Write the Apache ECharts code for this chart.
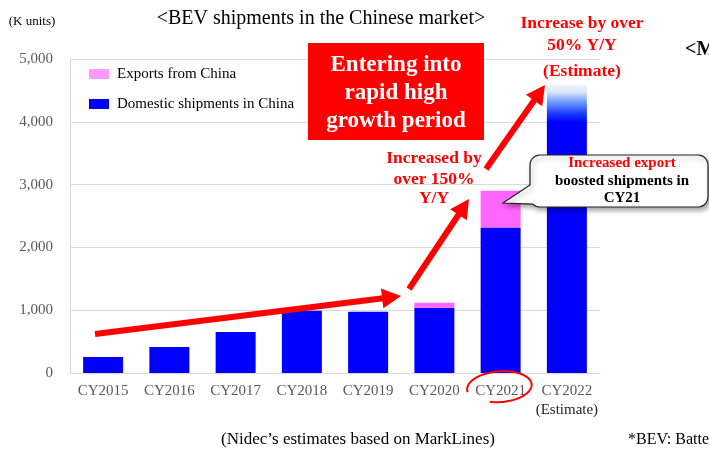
<!DOCTYPE html>
<html>
<head>
<meta charset="utf-8">
<style>
  html, body { margin: 0; padding: 0; background: #ffffff; }
  #chart { width: 709px; height: 450px; }
</style>
<script src="https://cdn.jsdelivr.net/npm/echarts@6/dist/echarts.min.js"></script>
</head>
<body>
<div id="chart"></div>
<script>
// BEV shipments in the Chinese market, thousand units
const categories = ['CY2015', 'CY2016', 'CY2017', 'CY2018', 'CY2019', 'CY2020', 'CY2021', 'CY2022\n(Estimate)'];
const domestic = [255, 415, 653, 992, 976, 1040, 2318, 4590];
const exports = [0, 0, 0, 0, 0, 80, 585, 0];
const yTicks = { min: 0, max: 5000, interval: 1000 };

const SERIF = "'Liberation Serif', 'Times New Roman', serif";
const RED = '#ff0000';

// thick red arrow from (x0,y0) to tip (x1,y1)
function arrow(x0, y0, x1, y1, w, headLen, headHalf) {
  const dx = x1 - x0, dy = y1 - y0;
  const len = Math.sqrt(dx * dx + dy * dy);
  const ux = dx / len, uy = dy / len;
  const bx = x1 - ux * headLen, by = y1 - uy * headLen;
  const px = -uy, py = ux;
  return {
    type: 'group', z: 100,
    children: [
      { type: 'line', z: 100, shape: { x1: x0, y1: y0, x2: bx + ux, y2: by + uy },
        style: { stroke: RED, lineWidth: w } },
      { type: 'polygon', z: 100,
        shape: { points: [[x1, y1], [bx + px * headHalf, by + py * headHalf], [bx - px * headHalf, by - py * headHalf]] },
        style: { fill: RED } }
    ]
  };
}

function txt(x, y, text, opts) {
  return {
    type: 'text', x: x, y: y, z: 110,
    style: Object.assign({
      text: text, fontFamily: SERIF, fontSize: 14, fill: '#000',
      align: 'center', verticalAlign: 'middle'
    }, opts || {})
  };
}

// quarter-circle corner points
function corner(cx, cy, r, a0, a1) {
  const pts = [];
  for (let k = 0; k <= 6; k++) {
    const a = a0 + (a1 - a0) * k / 6;
    pts.push([cx + r * Math.cos(a), cy + r * Math.sin(a)]);
  }
  return pts;
}

// speech bubble outline: rounded box with a pointer on the left edge
function bubblePoints(x, y, w, h, r, tip) {
  const P = Math.PI;
  let pts = [];
  pts = pts.concat(corner(x + r, y + r, r, P, 1.5 * P));
  pts = pts.concat(corner(x + w - r, y + r, r, 1.5 * P, 2 * P));
  pts = pts.concat(corner(x + w - r, y + h - r, r, 0, 0.5 * P));
  pts = pts.concat(corner(x + r, y + h - r, r, 0.5 * P, 0.75 * P));
  pts.push(tip);
  pts.push([x, y + h - 22]);
  return pts;
}

// hand-drawn loop around a label
function loopPoints(cx, cy, rx, ry, rot, a0, a1, shrink) {
  const pts = [];
  const n = 60;
  for (let k = 0; k <= n; k++) {
    const t = k / n;
    const a = a0 + (a1 - a0) * t;
    const s = 1 - shrink * t;
    const ex = rx * s * Math.cos(a), ey = ry * s * Math.sin(a);
    pts.push([cx + ex * Math.cos(rot) - ey * Math.sin(rot), cy + ex * Math.sin(rot) + ey * Math.cos(rot)]);
  }
  return pts;
}

const chart = echarts.init(document.getElementById('chart'));

const domesticData = domestic.map(function (v, i) {
  if (i === domestic.length - 1) {
    // estimated year: top of the bar fades out
    return {
      value: v,
      itemStyle: {
        color: {
          type: 'linear', x: 0, y: 0, x2: 0, y2: 1,
          colorStops: [
            { offset: 0, color: '#f2f5fb' },
            { offset: 0.025, color: '#dde6fa' },
            { offset: 0.06, color: '#6f9cff' },
            { offset: 0.1, color: '#1a3cff' },
            { offset: 0.13, color: '#0000ff' },
            { offset: 1, color: '#0000ff' }
          ]
        }
      }
    };
  }
  return v;
});

const option = {
  animation: false,
  textStyle: { fontFamily: SERIF },
  grid: { left: 70, right: 109, top: 59, bottom: 77 },
  legend: {
    orient: 'vertical',
    left: 84, top: 60,
    icon: 'rect',
    itemWidth: 20, itemHeight: 10, itemGap: 12,
    textStyle: { fontFamily: SERIF, fontSize: 15, color: '#000', lineHeight: 18, padding: [0, 0, 0, 3] },
    data: [
      { name: 'Exports from China', itemStyle: { color: '#ff99ff' } },
      { name: 'Domestic shipments in China' }
    ]
  },
  xAxis: {
    type: 'category',
    data: categories,
    axisLine: { lineStyle: { color: '#d9d9d9' } },
    axisTick: { show: false },
    axisLabel: {
      interval: 0, color: '#595959', fontFamily: SERIF, fontSize: 15, margin: 9, lineHeight: 19,
      formatter: function (v) {
        const parts = v.split('\n');
        return parts.length > 1 ? parts[0] + '\n{note|' + parts[1] + '}' : v;
      },
      rich: { note: { color: '#262626', fontFamily: SERIF, fontSize: 15, lineHeight: 19 } }
    }
  },
  yAxis: {
    type: 'value',
    min: yTicks.min, max: yTicks.max, interval: yTicks.interval,
    axisLine: { show: true, lineStyle: { color: '#d9d9d9' } },
    splitLine: { lineStyle: { color: '#d9d9d9' } },
    axisLabel: {
      color: '#595959', fontFamily: SERIF, fontSize: 15, margin: 17,
      formatter: function (v) { return v.toLocaleString('en-US'); }
    }
  },
  series: [
    {
      name: 'Domestic shipments in China', type: 'bar', stack: 'total',
      barWidth: 40, itemStyle: { color: '#0000ff' },
      data: domesticData
    },
    {
      name: 'Exports from China', type: 'bar', stack: 'total',
      barWidth: 40, itemStyle: { color: '#ff66ff' },
      data: exports
    }
  ],
  graphic: [
    txt(32, 22, '(K units)', { fontSize: 13 }),
    txt(321, 19, '<BEV shipments in the Chinese market>', { fontSize: 20 }),
    txt(685, 50, '<M', { fontSize: 20, fontWeight: 'bold', align: 'left' }),
    txt(358, 440, '(Nidec\u2019s estimates based on MarkLines)', { fontSize: 17 }),
    txt(628, 440, '*BEV: Battery electric vehicle', { fontSize: 16, align: 'left' }),

    // headline box
    { type: 'rect', z: 100, shape: { x: 308, y: 43, width: 176, height: 97 }, style: { fill: RED } },
    txt(396, 65, 'Entering into', { fontSize: 23, fontWeight: 'bold', fill: '#fff' }),
    txt(396, 93, 'rapid high', { fontSize: 23, fontWeight: 'bold', fill: '#fff' }),
    txt(396, 121, 'growth period', { fontSize: 23, fontWeight: 'bold', fill: '#fff' }),

    // growth annotations
    txt(582, 23, 'Increase by over', { fontSize: 17.5, fontWeight: 'bold', fill: RED }),
    txt(582, 45, '50% Y/Y', { fontSize: 17.5, fontWeight: 'bold', fill: RED }),
    txt(582, 71, '(Estimate)', { fontSize: 17.5, fontWeight: 'bold', fill: RED }),
    txt(434, 158, 'Increased by', { fontSize: 17.5, fontWeight: 'bold', fill: RED }),
    txt(434, 179, 'over 150%', { fontSize: 17.5, fontWeight: 'bold', fill: RED }),
    txt(434, 198, 'Y/Y', { fontSize: 17.5, fontWeight: 'bold', fill: RED }),

    arrow(95, 334, 401, 296, 6, 19, 10),
    arrow(409, 289, 469, 199, 6, 19, 10),
    arrow(486, 169, 545, 85, 6, 19, 10),

    // callout
    {
      type: 'polygon', z: 105,
      shape: { points: bubblePoints(530, 155, 178, 52, 10, [503, 203]) },
      style: {
        fill: '#fff', stroke: '#222', lineWidth: 1.2,
        shadowBlur: 5, shadowOffsetX: 2, shadowOffsetY: 3, shadowColor: 'rgba(0,0,0,0.35)'
      }
    },
    txt(622, 163, 'Increased export', { fontSize: 15, fontWeight: 'bold', fill: RED }),
    txt(622, 181, 'boosted shipments in', { fontSize: 15, fontWeight: 'bold' }),
    txt(622, 198, 'CY21', { fontSize: 15, fontWeight: 'bold' }),

    // loop around CY2021
    {
      type: 'polyline', z: 100,
      shape: { points: loopPoints(500, 387, 33, 16, -0.08, Math.PI * 0.95, Math.PI * 2.62, 0.06) },
      style: { fill: null, stroke: RED, lineWidth: 2 }
    }
  ]
};

chart.setOption(option);
</script>
</body>
</html>
